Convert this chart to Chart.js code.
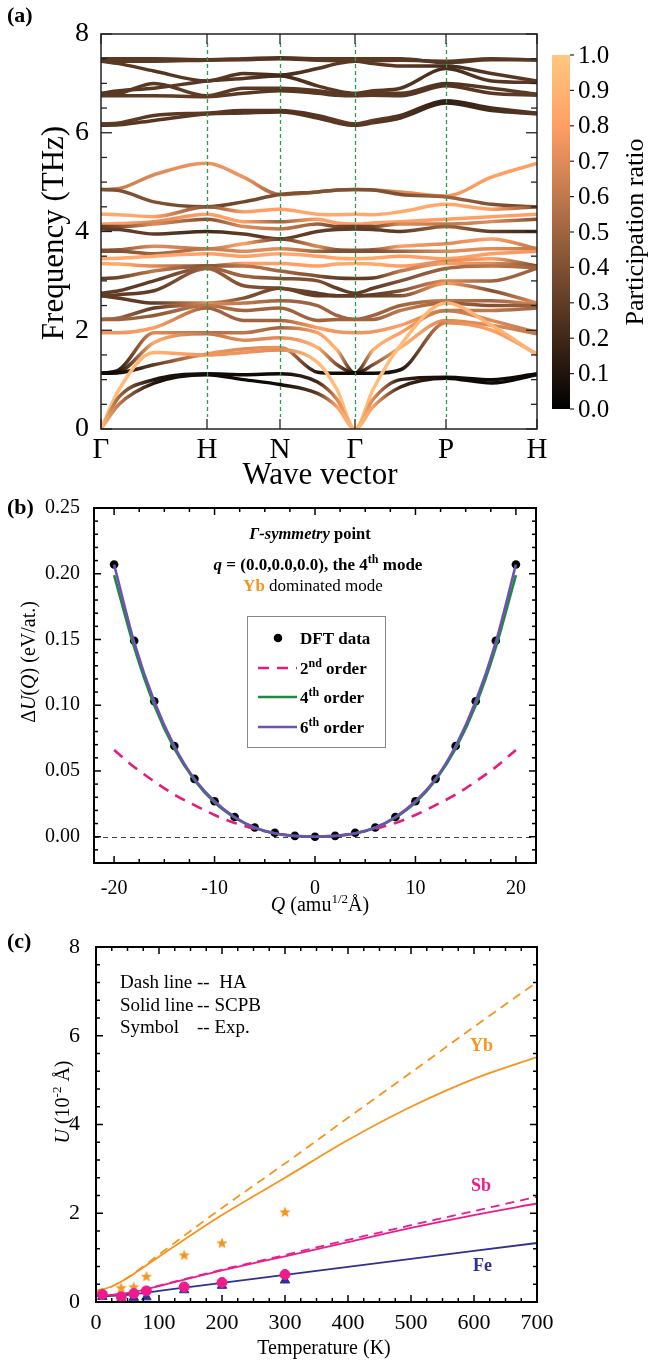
<!DOCTYPE html>
<html><head><meta charset="utf-8">
<script src="https://cdn.jsdelivr.net/npm/chart.js@4.4.1/dist/chart.umd.min.js"></script>
<style>
html,body{margin:0;padding:0;background:#fff;}
body{width:649px;height:1361px;position:relative;overflow:hidden;}
canvas{position:absolute;left:0;}
</style></head><body>
<canvas id="ca" width="649" height="490" style="top:0px"></canvas>
<canvas id="cb" width="649" height="430" style="top:490px"></canvas>
<canvas id="cc" width="649" height="441" style="top:920px"></canvas>
<script>
const SERIF = '"Liberation Serif","Times New Roman",serif';

// ---------------- Panel (a): phonon bands ----------------
const kPath = [0, 18, 53, 106, 142.5, 179, 216.5, 236, 254, 272, 299.5, 345, 390.5, 436];
const kTickPos = [0, 106, 179, 254, 345, 436];
const kTickLabels = ['Γ', 'H', 'N', 'Γ', 'P', 'H'];
const freqTicks = [0, 2, 4, 6, 8];
const prTicks = [0, 0.1, 0.2, 0.3, 0.4, 0.5, 0.6, 0.7, 0.8, 0.9, 1.0];
const bandFreq = [
 [0,0.5,0.93,1.1,1.0,0.9,0.72,0.45,0,0.45,0.85,1.03,0.93,1.1],
 [0,0.65,1.0,1.12,1.1,1.12,0.95,0.6,0,0.6,1.0,1.05,1.0,1.12],
 [0,0.8,1.55,1.5,1.55,1.6,1.35,0.8,0,0.8,1.7,2.55,2.1,1.5],
 [1.13,1.14,1.3,1.52,1.62,1.65,1.15,1.13,1.13,1.13,1.2,2.15,2.0,1.52],
 [1.13,1.16,1.75,1.93,1.8,1.85,1.65,1.3,1.13,1.3,1.65,2.2,2.1,1.93],
 [1.13,1.2,1.95,1.95,1.95,2.05,1.95,1.6,1.13,1.6,1.95,2.4,2.2,1.95],
 [1.95,1.95,2.05,2.45,2.2,2.2,2.05,1.97,1.95,1.97,2.1,2.4,2.4,2.45],
 [2.22,2.22,2.3,2.5,2.4,2.45,2.2,2.22,2.22,2.22,2.4,2.55,2.5,2.5],
 [2.22,2.25,2.45,2.52,2.55,2.6,2.5,2.3,2.22,2.3,2.5,2.6,2.6,2.52],
 [2.7,2.65,2.55,2.55,2.65,2.85,2.7,2.7,2.7,2.7,2.7,2.95,2.8,2.55],
 [2.7,2.72,2.8,3.25,2.9,2.85,2.75,2.7,2.7,2.72,2.8,3.0,3.0,3.25],
 [2.75,2.8,3.0,3.27,3.1,3.05,3.0,2.85,2.75,2.85,3.0,3.25,3.3,3.27],
 [3.05,3.07,3.2,3.3,3.3,3.2,3.1,3.06,3.05,3.06,3.2,3.35,3.35,3.3],
 [3.35,3.34,3.3,3.3,3.35,3.35,3.3,3.34,3.35,3.34,3.3,3.4,3.45,3.3],
 [3.45,3.46,3.5,3.55,3.5,3.55,3.5,3.46,3.45,3.46,3.5,3.45,3.55,3.6],
 [3.6,3.6,3.55,3.65,3.6,3.65,3.6,3.6,3.6,3.6,3.6,3.6,3.65,3.65],
 [3.62,3.63,3.7,3.65,3.75,3.85,3.7,3.63,3.62,3.63,3.7,3.75,3.85,3.65],
 [4.05,4.04,3.95,4.0,3.95,3.85,4.0,4.04,4.05,4.04,4.0,4.1,4.0,4.0],
 [4.1,4.1,4.15,4.25,4.1,4.05,4.15,4.1,4.1,4.1,4.15,4.15,4.2,4.25],
 [4.15,4.16,4.2,4.35,4.2,4.2,4.25,4.17,4.15,4.17,4.2,4.25,4.3,4.35],
 [4.35,4.34,4.3,4.5,4.4,4.45,4.35,4.34,4.35,4.34,4.4,4.55,4.45,4.5],
 [4.85,4.83,4.6,4.5,4.6,4.75,4.8,4.84,4.85,4.84,4.75,4.7,4.55,4.5],
 [4.85,4.87,5.15,5.38,5.1,4.75,4.8,4.84,4.85,4.84,4.8,4.72,5.1,5.38],
 [6.15,6.16,6.25,6.38,6.4,6.42,6.3,6.2,6.15,6.2,6.3,6.6,6.45,6.38],
 [6.18,6.2,6.35,6.4,6.45,6.45,6.35,6.25,6.18,6.25,6.35,6.65,6.5,6.4],
 [6.75,6.75,6.75,6.73,6.8,6.85,6.8,6.76,6.75,6.76,6.75,6.95,6.8,6.76],
 [6.78,6.8,7.0,6.75,6.9,6.9,6.85,6.8,6.78,6.8,6.8,7.0,6.9,6.78],
 [6.8,6.85,6.9,7.05,7.1,7.15,6.95,6.85,6.8,6.85,6.9,7.3,7.05,7.02],
 [7.45,7.4,7.25,7.05,7.2,7.17,7.3,7.4,7.45,7.4,7.35,7.35,7.2,7.05],
 [7.45,7.45,7.45,7.47,7.48,7.5,7.47,7.46,7.45,7.46,7.47,7.45,7.5,7.47],
 [7.5,7.5,7.5,7.48,7.5,7.52,7.5,7.5,7.5,7.5,7.5,7.42,7.48,7.48]
];
const bandPR = [
 [0.95,0.6,0.1,0.05,0.05,0.05,0.3,0.8,0.95,0.8,0.2,0.05,0.05,0.05],
 [0.95,0.5,0.1,0.05,0.05,0.05,0.2,0.7,0.95,0.7,0.15,0.05,0.05,0.05],
 [0.95,0.95,0.9,0.75,0.75,0.7,0.95,0.95,0.95,0.95,0.95,0.9,0.9,0.9],
 [0.05,0.05,0.3,0.75,0.7,0.75,0.1,0.05,0.05,0.05,0.1,0.7,0.8,0.75],
 [0.05,0.1,0.85,0.6,0.7,0.7,0.9,0.4,0.05,0.4,0.9,0.7,0.7,0.6],
 [0.05,0.15,0.7,0.55,0.6,0.5,0.8,0.9,0.05,0.9,0.8,0.6,0.7,0.6],
 [0.75,0.75,0.8,0.5,0.5,0.5,0.8,0.75,0.75,0.75,0.8,0.6,0.6,0.5],
 [0.5,0.5,0.45,0.6,0.5,0.5,0.5,0.5,0.5,0.5,0.6,0.5,0.4,0.5],
 [0.5,0.5,0.3,0.7,0.6,0.5,0.5,0.5,0.5,0.5,0.5,0.6,0.5,0.7],
 [0.3,0.3,0.3,0.7,0.4,0.35,0.3,0.3,0.3,0.3,0.4,0.8,0.4,0.7],
 [0.3,0.3,0.3,0.5,0.4,0.4,0.3,0.3,0.3,0.3,0.4,0.7,0.5,0.5],
 [0.3,0.3,0.3,0.5,0.5,0.4,0.4,0.3,0.3,0.3,0.4,0.5,0.6,0.5],
 [0.3,0.35,0.6,0.4,0.6,0.5,0.4,0.3,0.3,0.3,0.6,0.8,0.7,0.4],
 [0.85,0.85,0.7,0.4,0.8,0.8,0.8,0.85,0.85,0.85,0.8,0.7,0.8,0.4],
 [0.85,0.85,0.85,0.8,0.8,0.85,0.8,0.85,0.85,0.85,0.8,0.8,0.8,0.75],
 [0.4,0.4,0.5,0.6,0.7,0.7,0.5,0.4,0.4,0.4,0.5,0.7,0.7,0.6],
 [0.4,0.45,0.7,0.6,0.8,0.3,0.7,0.45,0.4,0.45,0.8,0.7,0.8,0.6],
 [0.3,0.3,0.3,0.2,0.3,0.3,0.3,0.3,0.3,0.3,0.3,0.5,0.3,0.2],
 [0.3,0.4,0.7,0.4,0.7,0.6,0.5,0.35,0.3,0.35,0.7,0.6,0.7,0.4],
 [0.8,0.8,0.7,0.8,0.8,0.5,0.8,0.8,0.8,0.8,0.8,0.8,0.8,0.8],
 [0.85,0.85,0.8,0.4,0.8,0.8,0.85,0.85,0.85,0.85,0.85,0.85,0.8,0.4],
 [0.4,0.4,0.4,0.35,0.35,0.4,0.4,0.4,0.4,0.4,0.4,0.5,0.4,0.35],
 [0.6,0.62,0.7,0.75,0.75,0.5,0.55,0.6,0.6,0.62,0.7,0.75,0.8,0.8],
 [0.28,0.28,0.27,0.28,0.27,0.25,0.27,0.28,0.28,0.28,0.25,0.15,0.22,0.28],
 [0.3,0.3,0.28,0.28,0.27,0.26,0.27,0.3,0.3,0.3,0.25,0.15,0.22,0.28],
 [0.28,0.28,0.3,0.3,0.28,0.27,0.28,0.28,0.28,0.28,0.28,0.25,0.28,0.3],
 [0.28,0.28,0.28,0.3,0.28,0.28,0.28,0.28,0.28,0.28,0.28,0.25,0.28,0.3],
 [0.28,0.28,0.28,0.27,0.27,0.2,0.27,0.28,0.28,0.28,0.27,0.22,0.27,0.28],
 [0.28,0.28,0.27,0.27,0.27,0.2,0.27,0.28,0.28,0.28,0.27,0.22,0.27,0.28],
 [0.28,0.28,0.28,0.28,0.28,0.25,0.28,0.28,0.28,0.28,0.28,0.27,0.28,0.28],
 [0.28,0.28,0.28,0.28,0.28,0.25,0.28,0.28,0.28,0.28,0.28,0.27,0.28,0.28]
];

// ---------------- Panel (b): potential energy surface ----------------
const qVals = [-20,-18,-16,-14,-12,-10,-8,-6,-4,-2,0,2,4,6,8,10,12,14,16,18,20];
const dftU  = [0.207,0.149,0.103,0.069,0.044,0.027,0.015,0.007,0.003,0.0006,0,0.0006,0.003,0.007,0.015,0.027,0.044,0.069,0.103,0.149,0.207];
const fit2U = [0.066,0.053,0.042,0.032,0.024,0.0165,0.0105,0.006,0.0027,0.0007,0,0.0007,0.0027,0.006,0.0105,0.0165,0.024,0.032,0.042,0.053,0.066];
const fit4U = [0.199,0.144,0.100,0.067,0.043,0.026,0.0145,0.0068,0.0024,0.0005,0,0.0005,0.0024,0.0068,0.0145,0.026,0.043,0.067,0.100,0.144,0.199];
const fit6U = [0.207,0.148,0.103,0.069,0.044,0.027,0.015,0.007,0.0027,0.0006,0,0.0006,0.0027,0.007,0.015,0.027,0.044,0.069,0.103,0.148,0.207];
const qTicks = [-20,-10,0,10,20];
const uTicks = [0,0.05,0.10,0.15,0.20,0.25];

// ---------------- Panel (c): atomic displacement ----------------
const tCurve = [0,25,50,75,100,150,200,300,400,500,600,700];
const ybHA   = [0.25,0.35,0.55,0.8,1.07,1.6,2.12,3.12,4.15,5.17,6.2,7.21];
const ybSCPB = [0.25,0.35,0.54,0.78,1.02,1.5,1.96,2.8,3.65,4.4,5.03,5.52];
const sbHA   = [0.15,0.16,0.2,0.27,0.37,0.55,0.73,1.06,1.4,1.73,2.05,2.37];
const sbSCPB = [0.15,0.16,0.2,0.27,0.36,0.54,0.71,1.03,1.35,1.67,1.96,2.22];
const feSCPB = [0.13,0.14,0.16,0.2,0.25,0.34,0.43,0.61,0.79,0.97,1.15,1.33];
const tExp   = [10,40,60,80,140,200,300];
const ybExp  = [0.2,0.31,0.33,0.57,1.05,1.32,2.02];
const sbExp  = [0.17,0.12,0.19,0.25,0.34,0.44,0.62];
const feExp  = [0.12,0.07,0.1,0.11,0.27,0.37,0.49];
const tTicks = [0,100,200,300,400,500,600,700];
const dispTicks = [0,2,4,6,8];

// ---------------- helpers ----------------
function copper(v){ v=Math.max(0,Math.min(1,v));
  return 'rgb('+Math.round(Math.min(1,1.25*v)*255)+','+Math.round(0.7812*v*255)+','+Math.round(0.4975*v*255)+')'; }
function F(size, style){ return (style?style+' ':'')+size+'px '+SERIF; }
function drawRuns(ctx, parts, cx, cy, align, rot, size){
  ctx.save(); ctx.translate(cx, cy); if (rot) ctx.rotate(rot);
  ctx.textBaseline='alphabetic'; ctx.textAlign='left';
  let w=0; parts.forEach(p=>{ctx.font=p.f; p.w=ctx.measureText(p.t).width; w+=p.w;});
  let x = align==='center' ? -w/2 : (align==='right' ? -w : 0);
  const base = 0.34*size;
  parts.forEach(p=>{ctx.font=p.f; ctx.fillStyle=p.c||'#000'; ctx.fillText(p.t, x, base+(p.dy||0)); x+=p.w;});
  ctx.restore();
}
function seg(ctx,x1,y1,x2,y2){ctx.beginPath();ctx.moveTo(x1,y1);ctx.lineTo(x2,y2);ctx.stroke();}
function frameTicks(chart, o){
  const {ctx, chartArea:a, scales:{x,y}} = chart;
  ctx.save();
  ctx.strokeStyle=o.color; ctx.lineWidth=o.lw;
  ctx.strokeRect(a.left,a.top,a.right-a.left,a.bottom-a.top);
  ctx.lineWidth=o.tw;
  o.xt.forEach(t=>{const p=x.getPixelForValue(t.v); seg(ctx,p,a.bottom,p,a.bottom-t.l); seg(ctx,p,a.top,p,a.top+t.l);});
  o.yt.forEach(t=>{const p=y.getPixelForValue(t.v); seg(ctx,a.left,p,a.left+t.l,p); seg(ctx,a.right,p,a.right-t.l,p);});
  ctx.restore();
}
function tickList(from,to,step,majors,maj,min){
  const out=[]; const n=Math.round((to-from)/step);
  for(let i=0;i<=n;i++){const v=from+i*step; const isMaj=majors.some(m=>Math.abs(m-v)<1e-9); out.push({v, l:isMaj?maj:min});}
  return out;
}
const common = { responsive:false, animation:false, events:[], devicePixelRatio:1,
  plugins:{legend:{display:false}, tooltip:{enabled:false}} };

// ---------------- Chart (a) ----------------
function bandGradient(ctx, i){
  const chart = ctx.chart; const a = chart.chartArea;
  if (!a) return copper(bandPR[i][0]);
  const g = chart.ctx.createLinearGradient(a.left,0,a.right,0);
  kPath.forEach((k,j)=>g.addColorStop(k/436, copper(bandPR[i][j])));
  return g;
}
new Chart(document.getElementById('ca'), {
  type:'line',
  data:{ datasets: bandFreq.map((fr,i)=>({
    data: kPath.map((k,j)=>({x:k, y:fr[j]})),
    borderColor: ctx=>bandGradient(ctx,i), borderWidth:3.5, pointRadius:0,
    cubicInterpolationMode:'monotone', fill:false })) },
  options:Object.assign({}, common, {
    layout:{padding:{top:34,right:112,left:0,bottom:0}},
    scales:{
      x:{type:'linear', min:0, max:436,
        afterBuildTicks:s=>{s.ticks=kTickPos.map(v=>({value:v}));},
        ticks:{callback:(v,i)=>kTickLabels[i], font:{family:SERIF,size:29}, color:'#000', padding:-4, maxRotation:0, autoSkip:false},
        grid:{display:false}, border:{display:false}, afterFit:s=>{s.height=61;}},
      y:{type:'linear', min:0, max:8,
        afterBuildTicks:s=>{s.ticks=freqTicks.map(v=>({value:v}));},
        ticks:{font:{family:SERIF,size:28}, color:'#000', padding:4},
        grid:{display:false}, border:{display:false}, afterFit:s=>{s.width=101;}}
    }
  }),
  plugins:[{
    id:'pa',
    afterDatasetsDraw(chart){
      const {ctx, chartArea:a, scales:{x}} = chart;
      ctx.save();
      ctx.strokeStyle='#2a9d4e'; ctx.lineWidth=1.3; ctx.setLineDash([4,3]);
      kTickPos.slice(1,-1).forEach(v=>{const p=Math.round(x.getPixelForValue(v))+0.5; seg(ctx,p,a.top+9,p,a.bottom-12);});
      ctx.restore();
      frameTicks(chart,{color:'#222', lw:1.5, tw:1.3,
        xt:kTickPos.map(v=>({v, l:10})),
        yt:tickList(0,8,0.5,freqTicks,11,6)});
    },
    afterDraw(chart){
      const ctx=chart.ctx;
      const cbx=552, cbw=18, cbTop=55, cbBot=409;
      ctx.save();
      const g=ctx.createLinearGradient(0,cbBot,0,cbTop);
      for(let i=0;i<=20;i++) g.addColorStop(i/20, copper(i/20));
      ctx.fillStyle=g; ctx.fillRect(cbx,cbTop,cbw,cbBot-cbTop);
      ctx.strokeStyle='#222'; ctx.lineWidth=1.2;
      ctx.font=F(25); ctx.fillStyle='#000'; ctx.textBaseline='middle'; ctx.textAlign='left';
      prTicks.forEach(v=>{const py=cbBot-v*(cbBot-cbTop); seg(ctx,cbx+cbw,py,cbx+cbw+4,py); ctx.fillText(v.toFixed(1),578,py+1);});
      ctx.restore();
      drawRuns(ctx,[{t:'Participation ratio',f:F(26)}],634,232,'center',-Math.PI/2,26);
      drawRuns(ctx,[{t:'Frequency (THz)',f:F(31)}],52,233,'center',-Math.PI/2,31);
      drawRuns(ctx,[{t:'Wave vector',f:F(31)}],320,473,'center',0,31);
      drawRuns(ctx,[{t:'(a)',f:F(22,'bold')}],7,15,'left',0,22);
    }
  }]
});

// ---------------- Chart (b) ----------------
const ORANGE='#f7941d', PINK='#e8197f';
new Chart(document.getElementById('cb'), {
  type:'line',
  data:{datasets:[
    {data:qVals.map((q,i)=>({x:q,y:fit6U[i]})), borderColor:'#6d52b5', borderWidth:2.6, pointRadius:0, cubicInterpolationMode:'monotone', order:0},
    {data:qVals.map((q,i)=>({x:q,y:fit4U[i]})), borderColor:'#1f8a3f', borderWidth:2.6, pointRadius:0, cubicInterpolationMode:'monotone', order:1},
    {data:qVals.map((q,i)=>({x:q,y:fit2U[i]})), borderColor:PINK, borderWidth:2.6, borderDash:[11,8], pointRadius:0, cubicInterpolationMode:'monotone', order:2},
    {data:qVals.map((q,i)=>({x:q,y:dftU[i]})), showLine:false, pointRadius:4.3, pointBackgroundColor:'#000', pointBorderColor:'#000', pointBorderWidth:0, order:3}
  ]},
  options:Object.assign({}, common, {
    layout:{padding:{top:18,right:113,left:0,bottom:0}},
    scales:{
      x:{type:'linear', min:-22, max:22,
        afterBuildTicks:s=>{s.ticks=qTicks.map(v=>({value:v}));},
        ticks:{callback:v=>String(v), font:{family:SERIF,size:20}, color:'#000', padding:6, maxRotation:0, autoSkip:false},
        grid:{display:false}, border:{display:false}, afterFit:s=>{s.height=57;}},
      y:{type:'linear', min:-0.02, max:0.25,
        afterBuildTicks:s=>{s.ticks=uTicks.map(v=>({value:v}));},
        ticks:{callback:v=>v.toFixed(2), font:{family:SERIF,size:20}, color:'#000', padding:6},
        grid:{display:false}, border:{display:false}, afterFit:s=>{s.width=94;}}
    }
  }),
  plugins:[{
    id:'pb',
    beforeDatasetsDraw(chart){
      const {ctx, chartArea:a, scales:{y}} = chart;
      ctx.save(); ctx.strokeStyle='#444'; ctx.lineWidth=1; ctx.setLineDash([5,4]);
      const p=Math.round(y.getPixelForValue(0))+0.5; seg(ctx,a.left,p,a.right,p); ctx.restore();
    },
    afterDatasetsDraw(chart){
      frameTicks(chart,{color:'#000', lw:2, tw:1.5,
        xt:tickList(-20,20,2.5,qTicks,7,4),
        yt:tickList(-0.02,0.25,0.01,uTicks,7,4)});
    },
    afterDraw(chart){
      const ctx=chart.ctx;
      drawRuns(ctx,[{t:'(b)',f:F(22,'bold')}],7,17,'left',0,22);
      drawRuns(ctx,[{t:'Γ-symmetry',f:F(16.5,'italic bold')},{t:' point',f:F(16.5,'bold')}],310,43,'center',0,16.5);
      drawRuns(ctx,[{t:'q',f:F(17,'italic bold')},{t:' = (0.0,0.0,0.0), the 4',f:F(17,'bold')},{t:'th',f:F(12,'bold'),dy:-7},{t:' mode',f:F(17,'bold')}],318,74,'center',0,17);
      drawRuns(ctx,[{t:'Yb',f:F(17,'bold'),c:ORANGE},{t:' dominated mode',f:F(17)}],313,95,'center',0,17);
      // legend
      ctx.save();
      ctx.fillStyle='#fff'; ctx.fillRect(247,126,138,131);
      ctx.strokeStyle='#888'; ctx.lineWidth=1; ctx.strokeRect(247.5,126.5,138,131);
      ctx.fillStyle='#000'; ctx.beginPath(); ctx.arc(278,148,4.3,0,Math.PI*2); ctx.fill();
      ctx.lineWidth=2.6;
      ctx.strokeStyle=PINK; ctx.setLineDash([11,8]); seg(ctx,258,178,297,178); ctx.setLineDash([]);
      ctx.strokeStyle='#1f8a3f'; seg(ctx,258,207,297,207);
      ctx.strokeStyle='#6d52b5'; seg(ctx,258,237,297,237);
      ctx.restore();
      drawRuns(ctx,[{t:'DFT data',f:F(17,'bold')}],300,148,'left',0,17);
      drawRuns(ctx,[{t:'2',f:F(17,'bold')},{t:'nd',f:F(12,'bold'),dy:-7},{t:' order',f:F(17,'bold')}],300,178,'left',0,17);
      drawRuns(ctx,[{t:'4',f:F(17,'bold')},{t:'th',f:F(12,'bold'),dy:-7},{t:' order',f:F(17,'bold')}],300,207,'left',0,17);
      drawRuns(ctx,[{t:'6',f:F(17,'bold')},{t:'th',f:F(12,'bold'),dy:-7},{t:' order',f:F(17,'bold')}],300,237,'left',0,17);
      // axis titles
      drawRuns(ctx,[{t:'Δ',f:F(20)},{t:'U',f:F(20,'italic')},{t:'(',f:F(20)},{t:'Q',f:F(20,'italic')},{t:') (eV/at.)',f:F(20)}],28,172,'center',-Math.PI/2,20);
      drawRuns(ctx,[{t:'Q',f:F(20,'italic')},{t:' (amu',f:F(20)},{t:'1/2',f:F(13),dy:-8},{t:'Å)',f:F(20)}],320,414,'center',0,20);
    }
  }]
});

// ---------------- Chart (c) ----------------
const FE='#2e3192', SB='#ec1c8c';
function starImg(r,color){
  const c=document.createElement('canvas'); const s=Math.ceil(2*r+2); c.width=c.height=s;
  const g=c.getContext('2d'); g.fillStyle=color; g.beginPath();
  for(let i=0;i<10;i++){const a=-Math.PI/2+i*Math.PI/5; const rr=i%2?r*0.42:r; g.lineTo(s/2+rr*Math.cos(a), s/2+rr*Math.sin(a));}
  g.closePath(); g.fill(); return c;
}
const curve=(arr,color,dash,order)=>({data:tCurve.map((t,i)=>({x:t,y:arr[i]})), borderColor:color, borderWidth:1.8, borderDash:dash||[], pointRadius:0, cubicInterpolationMode:'monotone', order});
new Chart(document.getElementById('cc'), {
  type:'line',
  data:{datasets:[
    {data:tExp.map((t,i)=>({x:t,y:sbExp[i]})), showLine:false, pointStyle:'circle', pointRadius:5, pointBackgroundColor:SB, pointBorderColor:SB, order:0},
    {data:tExp.map((t,i)=>({x:t,y:feExp[i]})), showLine:false, pointStyle:'triangle', pointRadius:5.5, pointBackgroundColor:FE, pointBorderColor:FE, order:1},
    {data:tExp.map((t,i)=>({x:t,y:ybExp[i]})), showLine:false, pointStyle:starImg(6,ORANGE), pointRadius:6, order:2},
    curve(ybHA,ORANGE,[9,6],5), curve(ybSCPB,ORANGE,null,4),
    curve(sbHA,SB,[9,6],7), curve(sbSCPB,SB,null,6),
    curve(feSCPB,FE,null,8)
  ]},
  options:Object.assign({}, common, {
    layout:{padding:{top:27,right:112,left:0,bottom:0}},
    scales:{
      x:{type:'linear', min:0, max:700,
        afterBuildTicks:s=>{s.ticks=tTicks.map(v=>({value:v}));},
        ticks:{font:{family:SERIF,size:22}, color:'#000', padding:0, maxRotation:0, autoSkip:false},
        grid:{display:false}, border:{display:false}, afterFit:s=>{s.height=59;}},
      y:{type:'linear', min:0, max:8,
        afterBuildTicks:s=>{s.ticks=dispTicks.map(v=>({value:v}));},
        ticks:{font:{family:SERIF,size:22}, color:'#000', padding:8},
        grid:{display:false}, border:{display:false}, afterFit:s=>{s.width=96;}}
    }
  }),
  plugins:[{
    id:'pc',
    afterDatasetsDraw(chart){
      frameTicks(chart,{color:'#000', lw:2, tw:1.5,
        xt:tickList(0,700,25,tTicks,7,4),
        yt:tickList(0,8,0.4,dispTicks,7,4)});
    },
    afterDraw(chart){
      const ctx=chart.ctx;
      drawRuns(ctx,[{t:'(c)',f:F(22,'bold')}],7,21,'left',0,22);
      drawRuns(ctx,[{t:'Dash line',f:F(19)}],120,62,'left',0,19);
      drawRuns(ctx,[{t:'--  HA',f:F(19)}],197,62,'left',0,19);
      drawRuns(ctx,[{t:'Solid line',f:F(19)}],120,85,'left',0,19);
      drawRuns(ctx,[{t:'-- SCPB',f:F(19)}],197,85,'left',0,19);
      drawRuns(ctx,[{t:'Symbol',f:F(19)}],120,107,'left',0,19);
      drawRuns(ctx,[{t:'-- Exp.',f:F(19)}],197,107,'left',0,19);
      drawRuns(ctx,[{t:'Yb',f:F(18,'bold'),c:ORANGE}],470,125,'left',0,18);
      drawRuns(ctx,[{t:'Sb',f:F(18,'bold'),c:SB}],471,265,'left',0,18);
      drawRuns(ctx,[{t:'Fe',f:F(18,'bold'),c:FE}],473,345,'left',0,18);
      drawRuns(ctx,[{t:'U',f:F(20,'italic')},{t:' (10',f:F(20)},{t:'-2',f:F(13),dy:-8},{t:' Å)',f:F(20)}],62,182,'center',-Math.PI/2,20);
      drawRuns(ctx,[{t:'Temperature (K)',f:F(20)}],324,427,'center',0,20);
    }
  }]
});
</script>
</body></html>
